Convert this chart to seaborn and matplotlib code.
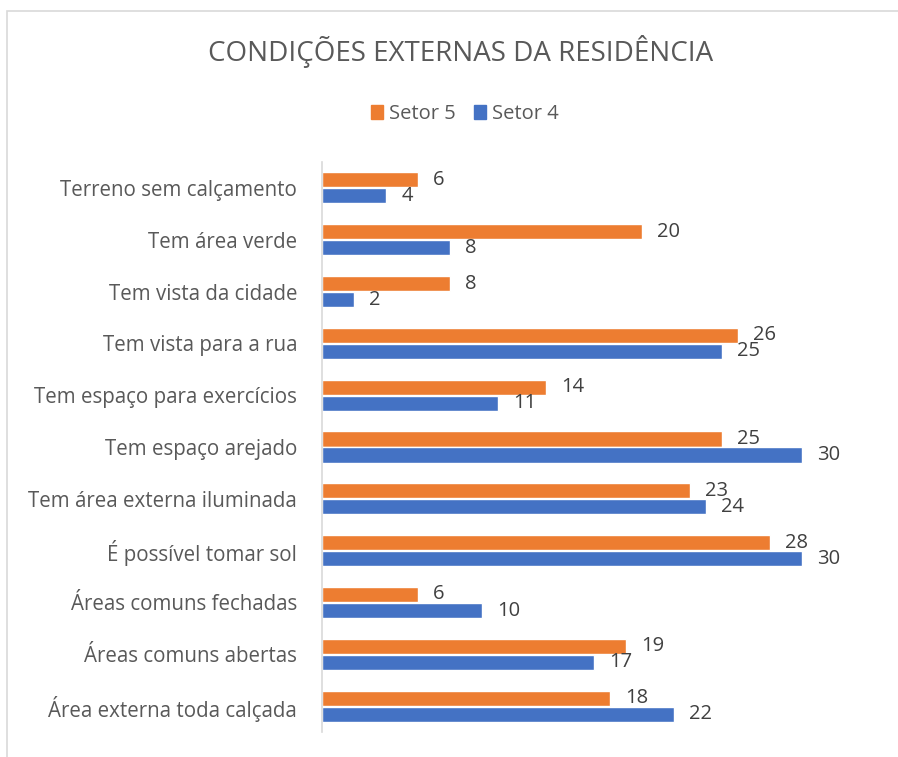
import pandas as pd
import matplotlib
matplotlib.use('Agg')
import matplotlib.pyplot as plt
import seaborn as sns

# 데이터
categorias = ['Terreno sem calçamento', 'Tem área verde', 'Tem vista da cidade',
              'Tem vista para a rua', 'Tem espaço para exercícios', 'Tem espaço arejado',
              'Tem área externa iluminada', 'É possível tomar sol', 'Áreas comuns fechadas',
              'Áreas comuns abertas', 'Área externa toda calçada']
setor5 = [6, 20, 8, 26, 14, 25, 23, 28, 6, 19, 18]
setor4 = [4, 8, 2, 25, 11, 30, 24, 30, 10, 17, 22]
series = ['Setor 5', 'Setor 4']

df = pd.DataFrame({
    'categoria': categorias * 2,
    'valor': setor5 + setor4,
    'setor': [series[0]] * len(categorias) + [series[1]] * len(categorias),
})

sns.set_theme(style='white')
plt.rcParams['font.family'] = ['Open Sans', 'DejaVu Sans']

fig = plt.figure(figsize=(8.98, 7.57), dpi=100)
ax = fig.add_axes([0.3586, 0.033, 0.6234, 0.753])

sns.barplot(data=df, y='categoria', x='valor', hue='setor', hue_order=series,
            order=categorias, palette=['#ED7D31', '#4472C4'], saturation=1, orient='h',
            width=0.62, gap=0.06, ax=ax, legend=False)

for c in ax.containers:
    ax.bar_label(c, padding=11, fontsize=14.5, color='#404040')

ax.set_xlim(0, 35)
ax.set_xlabel('')
ax.set_ylabel('')
ax.set_xticks([])
ax.tick_params(axis='y', length=0, labelsize=14.8, labelcolor='#595959', pad=18)
for s in ['top', 'right', 'bottom']:
    ax.spines[s].set_visible(False)
ax.spines['left'].set_color('#d9d9d9')
ax.spines['left'].set_linewidth(1.2)

# 제목과 범례
fig.text(0.513, 0.932, 'CONDIÇÕES EXTERNAS DA RESIDÊNCIA', ha='center', va='center',
         fontsize=20, color='#595959')
handles = [plt.Rectangle((0, 0), 1, 1, color='#ED7D31'),
           plt.Rectangle((0, 0), 1, 1, color='#4472C4')]
fig.legend(handles, series, loc='center', bbox_to_anchor=(0.518, 0.849), ncol=2,
           frameon=False, fontsize=14.5, handlelength=0.6, handleheight=0.7,
           handletextpad=0.3, columnspacing=0.9, labelcolor='#595959')

# 바깥 테두리
fig.add_artist(plt.Rectangle((0.008, -0.01), 1.1, 0.996, transform=fig.transFigure,
                             fill=False, edgecolor='#d9d9d9', linewidth=1.2))

fig.savefig('out.png', dpi=100)
